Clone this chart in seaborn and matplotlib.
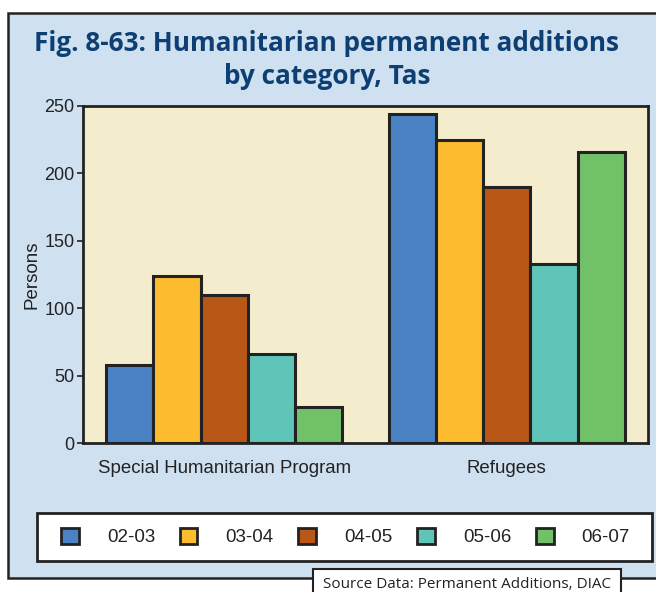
import pandas as pd
import matplotlib.pyplot as plt
import matplotlib.patches as mpatches
import seaborn as sns

# data
categories = ['Special Humanitarian Program', 'Refugees']
years = ['02-03', '03-04', '04-05', '05-06', '06-07']
shp = [58, 124, 110, 66, 27]
refugees = [244, 225, 190, 133, 216]
colors = ['#4A82C3', '#FDBB30', '#B85716', '#60C5B9', '#71C169']

df = pd.DataFrame({
    'Category': [categories[0]] * 5 + [categories[1]] * 5,
    'Year': years * 2,
    'Persons': shp + refugees,
})

sns.set_style('ticks')
plt.rcParams['font.family'] = ['Liberation Sans', 'DejaVu Sans']

W, H = 656, 592
fig = plt.figure(figsize=(W / 100, H / 100), dpi=100)
fig.patch.set_facecolor('white')

# outer light-blue frame
frame = mpatches.Rectangle((7.5 / W, 1 - 578 / H), 700 / W, 565 / H,
                           transform=fig.transFigure, facecolor='#CFE0F1',
                           edgecolor='#222222', linewidth=1.8, zorder=-1)
fig.patches.append(frame)

ax = fig.add_axes([83 / W, 1 - 443 / H, (648 - 83) / W, (443 - 106) / H])
ax.set_zorder(2)
ax.set_facecolor('#F3ECCD')

sns.barplot(data=df, x='Category', y='Persons', hue='Year', palette=colors,
            width=0.835, edgecolor='#222222', linewidth=2.2, saturation=1,
            ax=ax, legend=False)

ax.set_ylim(0, 250)
ax.set_xlim(-0.5, 1.5)
ax.set_yticks([0, 50, 100, 150, 200, 250])
ax.set_xlabel('')
ax.set_ylabel('Persons', fontsize=13.5, color='#222222', labelpad=3)
ax.tick_params(axis='y', length=4, width=1.2, pad=2, labelsize=13, colors='#222222')
ax.tick_params(axis='x', length=0, pad=12, labelsize=13.4, colors='#222222')
for s in ax.spines.values():
    s.set_visible(True)
    s.set_linewidth(2)
    s.set_color('#222222')

# title
fig.text(327 / W, 1 - 60 / H, 'Fig. 8-63: Humanitarian permanent additions\nby category, Tas',
         ha='center', va='center', fontsize=18.8, fontweight='bold',
         color='#0D3F73', family=['Open Sans', 'DejaVu Sans'], linespacing=1.28)

# legend box drawn separately, entries placed inside it
box = mpatches.Rectangle((37 / W, 1 - 561 / H), (652 - 37) / W, (561 - 513) / H,
                         transform=fig.transFigure, facecolor='white',
                         edgecolor='#222222', linewidth=2, zorder=1)
fig.patches.append(box)
handles = [mpatches.Patch(facecolor=c, edgecolor='#222222', linewidth=2) for c in colors]
leg = fig.legend(handles, years, loc='center left', ncol=5, mode='expand',
                 bbox_to_anchor=(61 / W, 1 - 561 / H, (630 - 61) / W, (561 - 513) / H),
                 fontsize=13.5, handlelength=0.95, handleheight=0.95,
                 handletextpad=1.5, borderaxespad=0, borderpad=0,
                 frameon=False)
leg.set_zorder(3)
for t in leg.get_texts():
    t.set_color('#222222')

# source box
src = mpatches.Rectangle((313 / W, -0.05), (621 - 313) / W, 0.05 + (592 - 569) / H,
                         transform=fig.transFigure, facecolor='white',
                         edgecolor='#222222', linewidth=1.5, zorder=5)
fig.patches.append(src)
fig.text(467 / W, 1 - 584 / H, 'Source Data: Permanent Additions, DIAC',
         ha='center', va='center', fontsize=11, color='#222222',
         family=['Open Sans', 'DejaVu Sans'], zorder=6)

fig.savefig('out.png', dpi=100)
